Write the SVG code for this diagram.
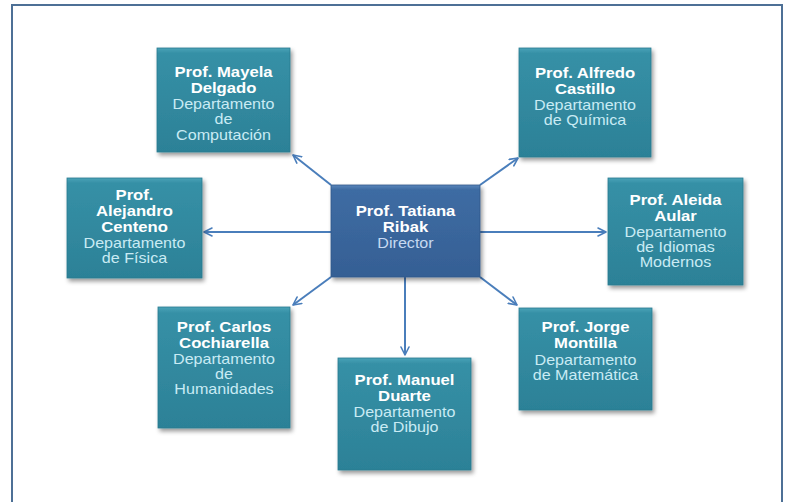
<svg xmlns="http://www.w3.org/2000/svg" width="788" height="502" viewBox="0 0 788 502">
<defs>
<linearGradient id="teal" x1="0" y1="0" x2="0" y2="1">
<stop offset="0" stop-color="#4aa3b8"/>
<stop offset="0.05" stop-color="#3690a6"/>
<stop offset="1" stop-color="#2c8197"/>
</linearGradient>
<linearGradient id="navy" x1="0" y1="0" x2="0" y2="1">
<stop offset="0" stop-color="#5a86bb"/>
<stop offset="0.05" stop-color="#3e6ca3"/>
<stop offset="1" stop-color="#355f94"/>
</linearGradient>
<filter id="sh" x="-10%" y="-10%" width="130%" height="130%">
<feDropShadow dx="2" dy="3" stdDeviation="2" flood-color="#000" flood-opacity="0.4"/>
</filter>
<marker id="arr" viewBox="0 0 10 10" refX="9" refY="5" markerWidth="5" markerHeight="5" orient="auto" markerUnits="strokeWidth">
<path d="M1,1 L9,5 L1,9" fill="none" stroke="#4a7ebb" stroke-width="1.6" stroke-linecap="round" stroke-linejoin="round"/>
</marker>
<style>
.box{fill:url(#teal);stroke:#2a7a8f;stroke-width:0.8;filter:url(#sh)}
.dir{fill:url(#navy);stroke:#30598a;stroke-width:0.8;filter:url(#sh)}
text{font-family:"Liberation Sans",Arial,sans-serif;font-size:14px;text-anchor:middle}
.n{font-weight:bold;fill:#ffffff;font-size:14.5px}
.d{fill:#c9ebf4}
.dd{fill:#c6d9f1}
.c{fill:none;stroke:#4a7ebb;stroke-width:2;marker-end:url(#arr)}
</style>
</defs>
<rect x="0" y="0" width="788" height="502" fill="#ffffff"/>
<rect x="12" y="5" width="770" height="520" fill="none" stroke="#4d7096" stroke-width="2"/>

<g id="connectors">
<line class="c" x1="331" y1="185" x2="293" y2="155"/>
<line class="c" x1="480" y1="185" x2="518" y2="158"/>
<line class="c" x1="331" y1="232" x2="204" y2="232"/>
<line class="c" x1="480" y1="232" x2="606" y2="232"/>
<line class="c" x1="331" y1="277" x2="293" y2="305"/>
<line class="c" x1="405" y1="277" x2="405" y2="355"/>
<line class="c" x1="480" y1="277" x2="517" y2="305"/>
</g>

<g id="director">
<rect class="dir" x="331" y="185" width="149" height="92"/>
<g transform="translate(405.5 0) scale(1.15 1)">
<text class="n" x="0" y="216">Prof. Tatiana</text>
<text class="n" x="0" y="232">Ribak</text>
<text class="dd" x="0" y="248">Director</text>
</g>
</g>

<g id="mayela">
<rect class="box" x="157" y="48" width="133" height="104"/>
<g transform="translate(223.5 0) scale(1.15 1)">
<text class="n" x="0" y="77">Prof. Mayela</text>
<text class="n" x="0" y="93">Delgado</text>
<text class="d" x="0" y="109">Departamento</text>
<text class="d" x="0" y="124">de</text>
<text class="d" x="0" y="140">Computación</text>
</g>
</g>

<g id="alfredo">
<rect class="box" x="519" y="48" width="132" height="109"/>
<g transform="translate(585 0) scale(1.15 1)">
<text class="n" x="0" y="78">Prof. Alfredo</text>
<text class="n" x="0" y="94">Castillo</text>
<text class="d" x="0" y="110">Departamento</text>
<text class="d" x="0" y="125">de Química</text>
</g>
</g>

<g id="alejandro">
<rect class="box" x="67" y="178" width="135" height="100"/>
<g transform="translate(134.5 0) scale(1.15 1)">
<text class="n" x="0" y="200">Prof.</text>
<text class="n" x="0" y="216">Alejandro</text>
<text class="n" x="0" y="232">Centeno</text>
<text class="d" x="0" y="248">Departamento</text>
<text class="d" x="0" y="263">de Física</text>
</g>
</g>

<g id="aleida">
<rect class="box" x="608" y="178" width="135" height="107"/>
<g transform="translate(675.5 0) scale(1.15 1)">
<text class="n" x="0" y="205">Prof. Aleida</text>
<text class="n" x="0" y="221">Aular</text>
<text class="d" x="0" y="237">Departamento</text>
<text class="d" x="0" y="252">de Idiomas</text>
<text class="d" x="0" y="267">Modernos</text>
</g>
</g>

<g id="carlos">
<rect class="box" x="158" y="307" width="132" height="121"/>
<g transform="translate(224 0) scale(1.15 1)">
<text class="n" x="0" y="332">Prof. Carlos</text>
<text class="n" x="0" y="348">Cochiarella</text>
<text class="d" x="0" y="364">Departamento</text>
<text class="d" x="0" y="379">de</text>
<text class="d" x="0" y="394">Humanidades</text>
</g>
</g>

<g id="manuel">
<rect class="box" x="338" y="358" width="133" height="112"/>
<g transform="translate(404.5 0) scale(1.15 1)">
<text class="n" x="0" y="385">Prof. Manuel</text>
<text class="n" x="0" y="401">Duarte</text>
<text class="d" x="0" y="417">Departamento</text>
<text class="d" x="0" y="432">de Dibujo</text>
</g>
</g>

<g id="jorge">
<rect class="box" x="519" y="308" width="133" height="102"/>
<g transform="translate(585.5 0) scale(1.15 1)">
<text class="n" x="0" y="332">Prof. Jorge</text>
<text class="n" x="0" y="348">Montilla</text>
<text class="d" x="0" y="365">Departamento</text>
<text class="d" x="0" y="380">de Matemática</text>
</g>
</g>
</svg>
